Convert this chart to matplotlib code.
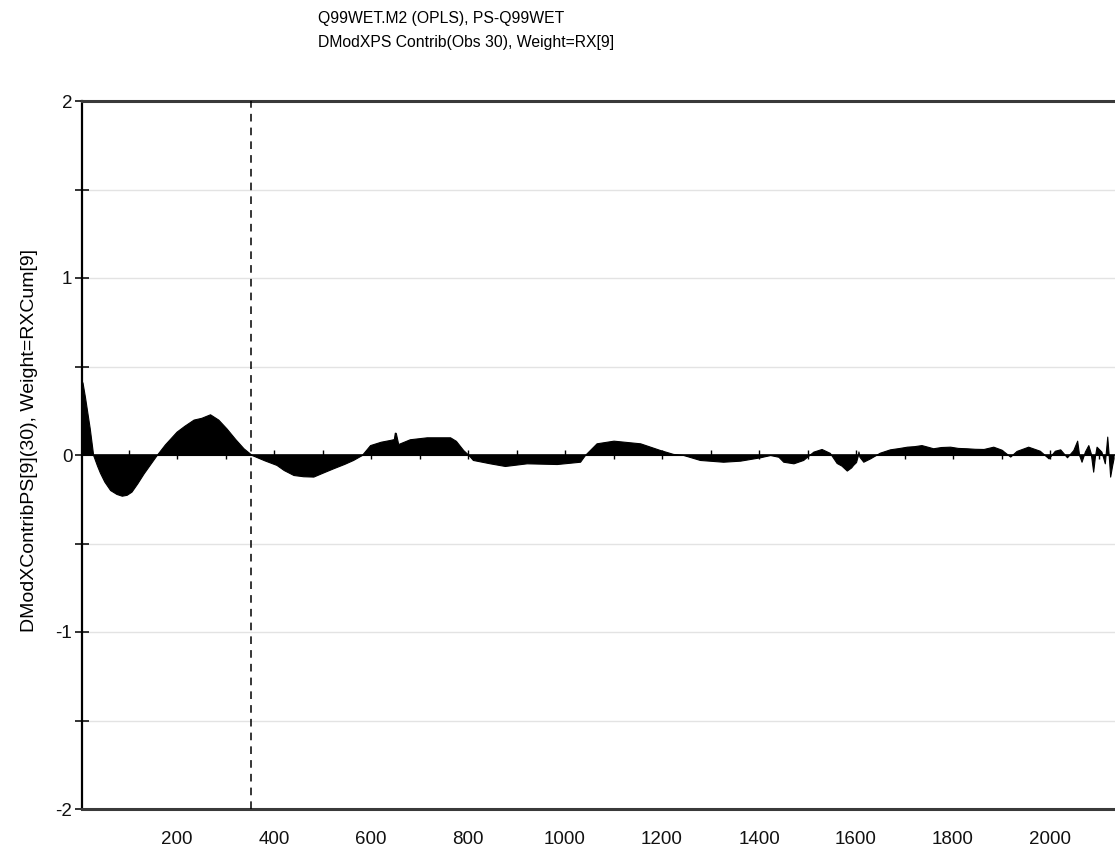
import matplotlib
matplotlib.use("Agg")
import matplotlib.pyplot as plt
import numpy as np

plt.rcParams['font.family'] = ['Liberation Sans', 'DejaVu Sans']

# Variable index (x) and contribution value (y)
var_index = [1, 5, 10, 15, 20, 27, 35, 41, 50, 62, 75, 86, 96, 106, 118, 131, 145,
             158, 175, 199, 215, 234, 250, 268, 285, 302, 320, 337, 354, 380, 405,
             420, 440, 460, 481, 500, 522, 545, 563, 581, 598, 620, 639, 647, 649,
             651, 656, 680, 715, 740, 763, 775, 790, 801, 810, 845, 876, 921, 983,
             1031, 1041, 1065, 1100, 1155, 1196, 1223, 1244, 1278, 1326, 1361, 1402,
             1423, 1440, 1450, 1471, 1491, 1512, 1529, 1546, 1560, 1570, 1581, 1590,
             1594, 1600, 1604, 1605, 1607, 1615, 1629, 1649, 1670, 1690, 1705, 1720,
             1735, 1750, 1759, 1775, 1794, 1810, 1828, 1845, 1863, 1883, 1900, 1918,
             1931, 1955, 1979, 1997, 2010, 2021, 2035, 2048, 2056, 2060, 2065, 2072,
             2079, 2084, 2089, 2093, 2096, 2106, 2113, 2118, 2121, 2124, 2128, 2131]
contrib = [0.42, 0.41, 0.33, 0.24, 0.15, 0.0, -0.06, -0.10, -0.15, -0.198, -0.22,
           -0.23, -0.225, -0.207, -0.16, -0.104, -0.05, 0.0, 0.06, 0.132, 0.165,
           0.20, 0.21, 0.23, 0.20, 0.15, 0.09, 0.038, 0.0, -0.03, -0.056, -0.085,
           -0.113, -0.12, -0.122, -0.10, -0.075, -0.05, -0.028, 0.0, 0.056, 0.075,
           0.085, 0.09, 0.126, 0.125, 0.062, 0.089, 0.10, 0.10, 0.10, 0.08, 0.028,
           0.0, -0.028, -0.047, -0.062, -0.047, -0.051, -0.038, 0.0, 0.066, 0.081,
           0.066, 0.028, 0.006, 0.0, -0.028, -0.038, -0.032, -0.013, 0.0, -0.01,
           -0.038, -0.047, -0.028, 0.019, 0.034, 0.012, -0.045, -0.06, -0.088,
           -0.07, -0.056, -0.04, 0.0, 0.02, -0.01, -0.038, -0.019, 0.013, 0.032,
           0.04, 0.047, 0.05, 0.056, 0.045, 0.038, 0.045, 0.047, 0.04, 0.038, 0.035,
           0.034, 0.047, 0.03, -0.009, 0.023, 0.047, 0.024, -0.019, 0.024, 0.032,
           -0.013, 0.028, 0.081, 0.0, -0.038, 0.02, 0.056, 0.01, -0.094, 0.0, 0.047,
           0.019, -0.047, 0.104, 0.0, -0.122, -0.06, -0.019]

marker_x = 352
x_ticks = [200, 400, 600, 800, 1000, 1200, 1400, 1600, 1800, 2000]
y_tick_labels = ["-2", "", "-1", "", "0", "", "1", "", "2"]

title_lines = ["Q99WET.M2 (OPLS), PS-Q99WET",
               "DModXPS Contrib(Obs 30), Weight=RX[9]"]
y_title = "DModXContribPS[9](30), Weight=RXCum[9]"

fig = plt.figure(figsize=(11.15, 8.51), dpi=100)
ax = fig.add_axes([82 / 1115, 42 / 851, 1 - 82 / 1115, 708 / 851])

ax.set_xlim(4, 2134)
ax.set_ylim(-2, 2)

# light horizontal grid at half steps
for gy in np.arange(-1.5, 2.0, 0.5):
    if gy != 0:
        ax.axhline(gy, color="#e3e3e3", lw=1, zorder=0)

x = np.array(var_index)
y = np.array(contrib)
ax.fill_between(x, 0, y, color="black", lw=0.8, edgecolor="black", zorder=3)

# zero line with its own small ticks every 100
ax.axhline(0, color="black", lw=1.2, zorder=4)
tick_pos = np.arange(100, 2200, 100)
ax.vlines(tick_pos, -0.022, 0.028, color="black", lw=1, zorder=4)

ax.axvline(marker_x, color="black", lw=1.1, ls=(0, (5, 4)), zorder=5)

ax.set_xticks(x_ticks)
ax.set_xticklabels([str(v) for v in x_ticks])
ax.tick_params(axis="x", length=0, pad=16, labelsize=13.5, colors="#111111")

ax.set_yticks(np.arange(-2, 2.01, 0.5))
ax.set_yticklabels(y_tick_labels)
ax.tick_params(axis="y", direction="inout", length=10, width=1.2, pad=2,
               labelsize=13.5, colors="#111111")

ax.set_ylabel(y_title, fontsize=14)
ax.yaxis.set_label_coords(-0.043, 0.52)

for side in ["top", "bottom"]:
    ax.spines[side].set_color("#3a3a3a")
    ax.spines[side].set_linewidth(2.2)
ax.spines["left"].set_color("black")
ax.spines["left"].set_linewidth(1.6)
ax.spines["right"].set_visible(False)

fig.text(318 / 1115, 1 - 19 / 851, title_lines[0], fontsize=11.3, va="center", ha="left")
fig.text(318 / 1115, 1 - 43 / 851, title_lines[1], fontsize=11.3, va="center", ha="left")

fig.savefig("out.png", dpi=100)
